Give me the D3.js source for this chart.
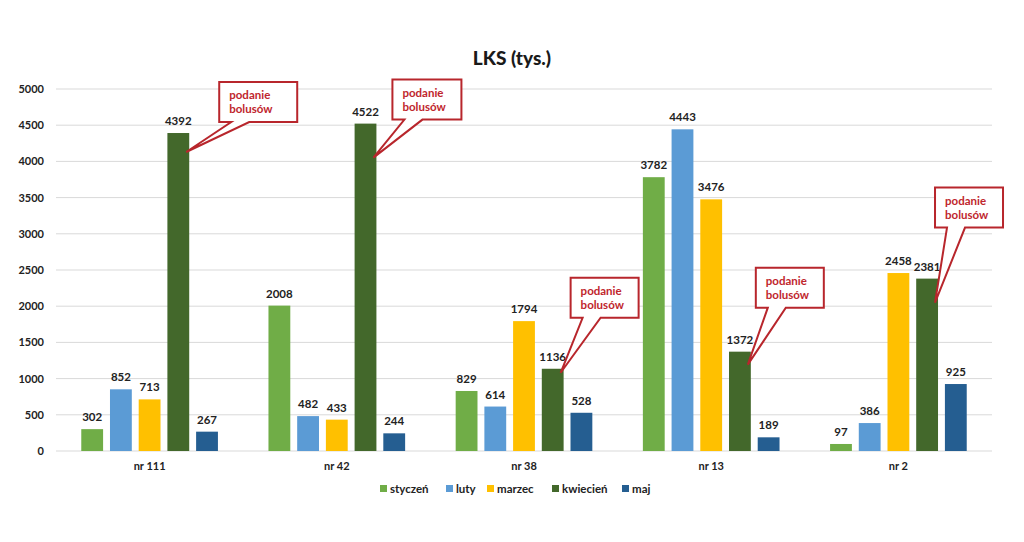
<!DOCTYPE html>
<html>
<head>
<meta charset="utf-8">
<script src="https://cdn.jsdelivr.net/npm/d3@7"></script>
<style>
  body { margin: 0; background: #fff; }
  svg text { font-family: Lato, "Open Sans", sans-serif; }
</style>
</head>
<body>
<div id="chart"></div>
<script>
// Data
const categories = ['nr 111', 'nr 42', 'nr 38', 'nr 13', 'nr 2'];
const months = ['styczeń', 'luty', 'marzec', 'kwiecień', 'maj'];
const styczen = [302, 2008, 829, 3782, 97];
const luty = [852, 482, 614, 4443, 386];
const marzec = [713, 433, 1794, 3476, 2458];
const kwiecien = [4392, 4522, 1136, 1372, 2381];
const maj = [267, 244, 528, 189, 925];
const yTicks = [0, 500, 1000, 1500, 2000, 2500, 3000, 3500, 4000, 4500, 5000];
const calloutText = ['podanie', 'bolusów'];

const seriesValues = [styczen, luty, marzec, kwiecien, maj];
const colors = ['#70ad47', '#5b9bd5', '#ffc000', '#43682b', '#255e91'];

// Callout placement (pixels): [box dx from tip, box dy from tip, box width, tip depth below bar top]
const calloutBoxes = [
    [33, -70, 78, 19],
    [19, -78, 69, 34],
    [10, -95, 68, 4],
    [8, -97, 68, 13],
    [0, -115, 68, 24]
];

const width = 1024, height = 542;
const margin = {top: 89, right: 32, bottom: 91, left: 56};
const plotW = width - margin.left - margin.right;
const plotH = height - margin.top - margin.bottom;

const svg = d3.select('#chart').append('svg')
    .attr('width', width)
    .attr('height', height);

// Title
svg.append('text')
    .attr('x', 512)
    .attr('y', 65)
    .attr('text-anchor', 'middle')
    .attr('font-size', 19)
    .attr('font-weight', 900)
    .attr('fill', '#1a1a1a')
    .text('LKS (tys.)');

const graph = svg.append('g')
    .attr('transform', `translate(${margin.left}, ${margin.top})`);

// Scales
const x0 = d3.scaleBand().domain(categories).range([0, plotW]).paddingInner(0.27).paddingOuter(0.135);
const x1 = d3.scaleBand().domain(months).range([0, x0.bandwidth()]).paddingInner(0.24).paddingOuter(0);
const y = d3.scaleLinear().domain([0, 5000]).range([plotH, 0]);

// Grid lines
graph.append('g')
    .selectAll('line')
    .data(yTicks)
    .enter()
    .append('line')
        .attr('x1', 0)
        .attr('x2', plotW)
        .attr('y1', d => y(d))
        .attr('y2', d => y(d))
        .attr('stroke', '#d9d9d9')
        .attr('stroke-width', 1);

// Y axis
const yAxis = d3.axisLeft(y).tickValues(yTicks).tickFormat(d3.format('d')).tickSize(0).tickPadding(12);
graph.append('g')
    .call(yAxis)
    .call(g => g.select('.domain').remove())
    .selectAll('text')
        .attr('font-size', 11)
        .attr('font-weight', 700)
        .attr('fill', '#222');

// X axis
const xAxis = d3.axisBottom(x0).tickSize(0).tickPadding(11);
graph.append('g')
    .attr('transform', `translate(0, ${plotH})`)
    .call(xAxis)
    .call(g => g.select('.domain').remove())
    .selectAll('text')
        .attr('font-size', 11)
        .attr('font-weight', 700)
        .attr('fill', '#222');

// Bars
const rows = [];
categories.forEach((c, i) => {
    months.forEach((m, j) => {
        rows.push({cat: c, month: m, value: seriesValues[j][i], color: colors[j]});
    });
});

const bars = graph.append('g');
bars.selectAll('rect')
    .data(rows)
    .enter()
    .append('rect')
        .attr('x', d => x0(d.cat) + x1(d.month))
        .attr('y', d => y(d.value))
        .attr('width', x1.bandwidth())
        .attr('height', d => plotH - y(d.value))
        .attr('fill', d => d.color);

bars.selectAll('text')
    .data(rows)
    .enter()
    .append('text')
        .attr('x', d => x0(d.cat) + x1(d.month) + x1.bandwidth() / 2)
        .attr('y', d => y(d.value) - 8)
        .attr('text-anchor', 'middle')
        .attr('font-size', 11.5)
        .attr('font-weight', 700)
        .attr('fill', '#222')
        .text(d => d.value);

// Callouts on the kwiecień bars
const callouts = graph.append('g');
categories.forEach((c, i) => {
    const [dx, dy, bw, depth] = calloutBoxes[i];
    const tipX = x0(c) + x1('kwiecień') + x1.bandwidth() - 3;
    const tipY = y(kwiecien[i]) + depth;
    const bx = tipX + dx, by = tipY + dy, bh = 40;
    const t1 = bx + 12, t2 = bx + 30;
    const path = d3.path();
    path.moveTo(bx, by);
    path.lineTo(bx + bw, by);
    path.lineTo(bx + bw, by + bh);
    path.lineTo(t2, by + bh);
    path.lineTo(tipX, tipY);
    path.lineTo(t1, by + bh);
    path.lineTo(bx, by + bh);
    path.closePath();
    callouts.append('path')
        .attr('d', path.toString())
        .attr('fill', '#fff')
        .attr('stroke', '#b8262c')
        .attr('stroke-width', 2)
        .attr('stroke-linejoin', 'miter');
    callouts.append('text')
        .attr('x', bx + 10)
        .attr('y', by + 17)
        .attr('font-size', 11.5)
        .attr('font-weight', 700)
        .attr('fill', '#c0262d')
        .selectAll('tspan')
        .data(calloutText)
        .enter()
        .append('tspan')
            .attr('x', bx + 10)
            .attr('dy', (d, k) => k === 0 ? 0 : 14)
            .text(d => d);
});

// Legend
const legendX = [380, 446, 487, 552, 622];
const legend = svg.append('g').attr('transform', 'translate(0, 489)');
months.forEach((m, j) => {
    legend.append('rect')
        .attr('x', legendX[j])
        .attr('y', -4)
        .attr('width', 7)
        .attr('height', 7)
        .attr('fill', colors[j]);
    legend.append('text')
        .attr('x', legendX[j] + 10)
        .attr('y', 4)
        .attr('font-size', 11.5)
        .attr('font-weight', 700)
        .attr('fill', '#222')
        .text(m);
});
</script>
</body>
</html>
